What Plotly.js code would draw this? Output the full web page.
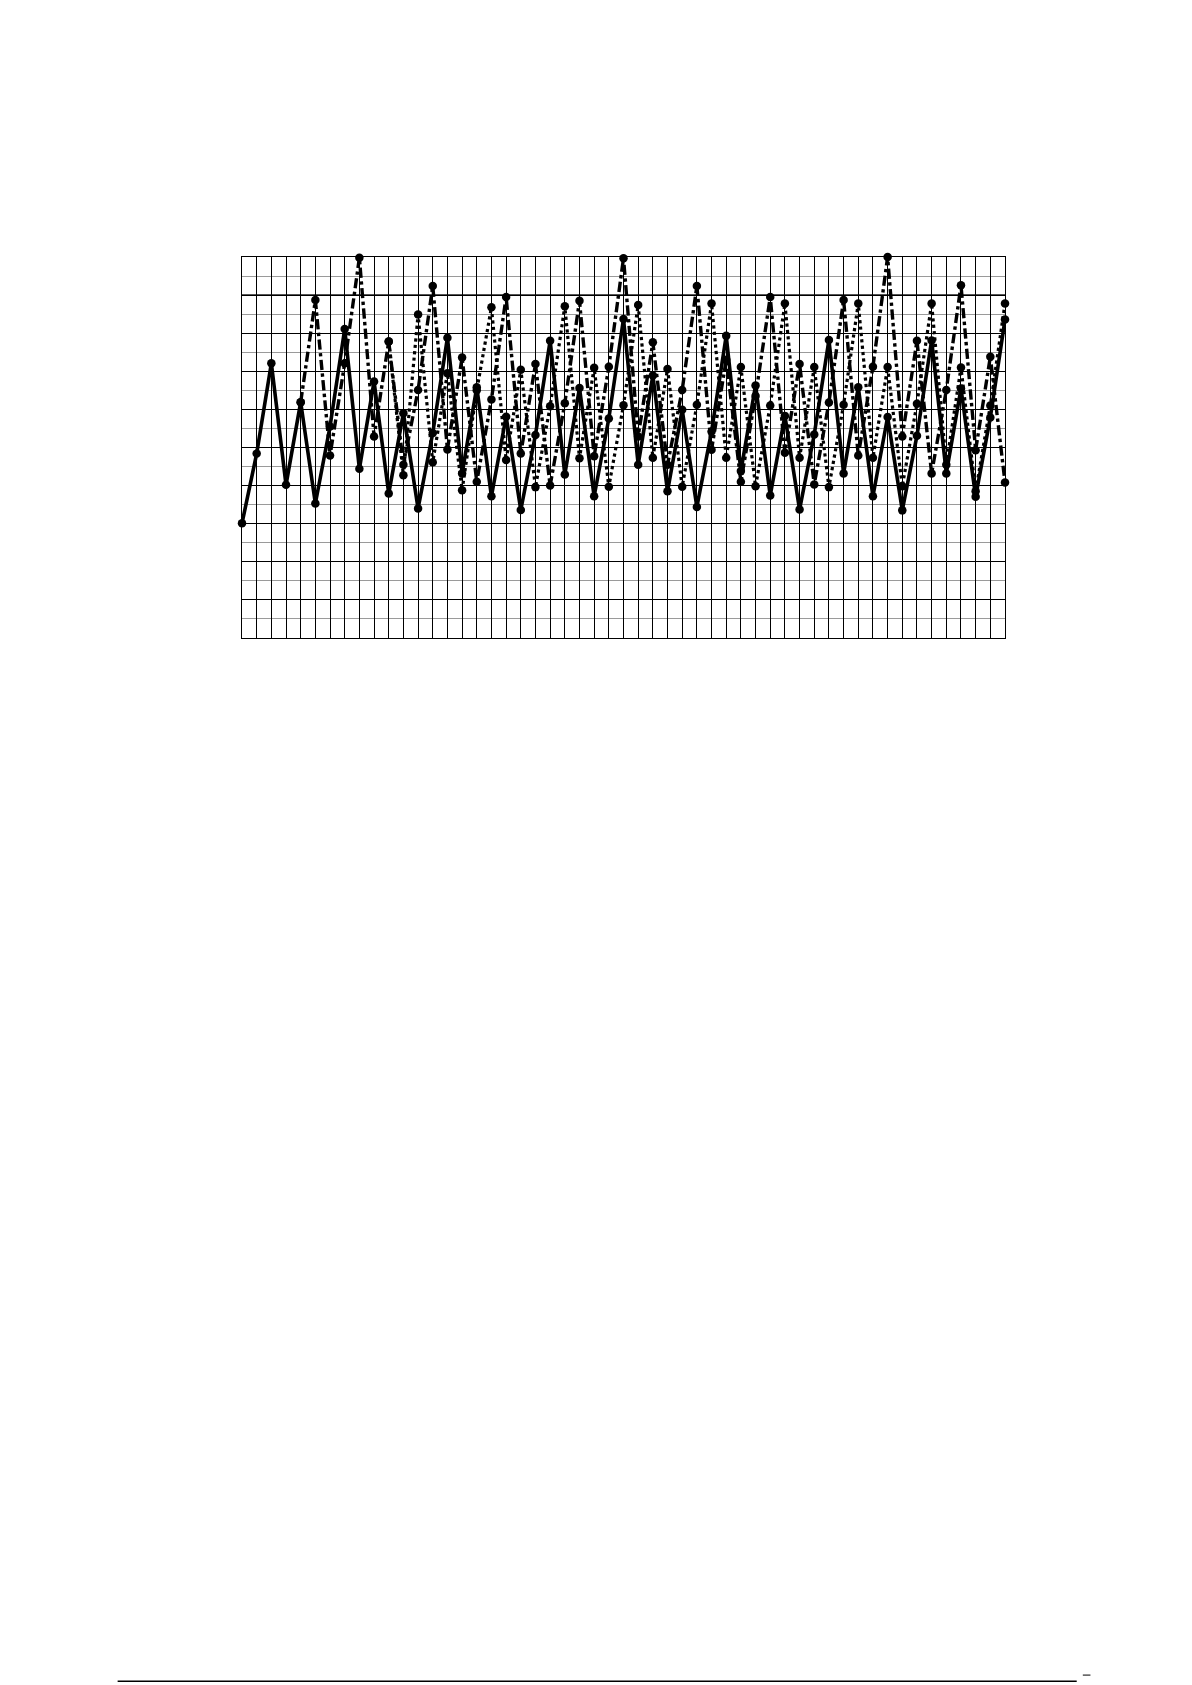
<!DOCTYPE html>
<html>
<head>
<meta charset="utf-8">
<script src="https://cdn.plot.ly/plotly-3.0.1.min.js"></script>
<style>
  html, body { margin: 0; padding: 0; background: #ffffff; }
  #chart { width: 1192px; height: 1685px; }
</style>
</head>
<body>
<div id="chart"></div>
<script>
// values, one per grid column (0..52)
const seriesSolid = [
  30.1, 48.4, 72.1, 40.2, 61.9, 35.3, 55.5, 81.1, 44.4, 67.3,
  37.9, 59.0, 34.0, 53.8, 78.8, 43.2, 65.8, 37.2, 58.1, 33.6,
  53.3, 78.0, 42.9, 65.6, 37.2, 57.6, 83.7, 45.5, 68.9, 38.5,
  59.9, 34.4, 54.2, 79.3, 43.8, 66.3, 37.4, 58.3, 33.7, 53.4,
  78.2, 43.2, 65.8, 37.2, 58.0, 33.5, 53.1, 78.1, 43.2, 65.5,
  37.1, 57.9, 83.6,
];

// dash-dot curve branches off the solid one at column 4
const seriesDashDot = [
  null, null, null, null,
  61.9, 88.7, 47.9, 72.1, 99.8, 52.9, 77.8, 45.5, 65.1, 92.4,
  49.5, 73.6, 41.0, 62.6, 89.5, 48.4, 71.9, 40.0, 61.6, 88.5,
  47.7, 71.2, 99.7, 52.9, 77.6, 45.5, 65.1, 92.4, 49.4, 73.0,
  41.0, 63.5, 89.5, 48.6, 71.9, 40.3, 61.8, 88.7, 47.9, 71.2,
  100.0, 52.9, 78.0, 43.2, 65.1, 92.6, 49.3, 73.8, 40.8,
];

// dotted curve branches off the dash-dot one at column 10
const seriesDotted = [
  null, null, null, null, null, null, null, null, null, null,
  77.8, 42.7, 84.9, 46.1, 69.5, 38.8, 65.0, 86.8, 46.7, 70.4,
  39.6, 60.8, 87.1, 47.2, 70.9, 39.7, 61.1, 87.4, 47.3, 70.6,
  39.7, 61.2, 87.8, 47.3, 71.1, 39.8, 61.0, 87.8, 47.3, 71.1,
  39.6, 61.2, 87.8, 47.3, 71.1, 39.8, 61.5, 87.8, 45.5, 71.0,
  38.5, 61.0, 87.8,
];

const columns = seriesSolid.map((_, i) => i);

function curve(values, dash, width) {
  return {
    x: columns,
    y: values,
    type: 'scatter',
    mode: 'lines+markers',
    line: { color: '#000000', width: width, dash: dash },
    marker: { color: '#000000', size: 8.5 },
    cliponaxis: false,
    hoverinfo: 'skip',
    showlegend: false,
  };
}

const data = [
  curve(seriesDotted, 'dot', 3.2),
  curve(seriesDashDot, 'dashdot', 3.4),
  curve(seriesSolid, 'solid', 3.6),
];

const layout = {
  width: 1192,
  height: 1685,
  autosize: false,
  paper_bgcolor: '#ffffff',
  plot_bgcolor: '#ffffff',
  margin: { l: 242, r: 187, t: 257, b: 1047, pad: 0 },
  xaxis: {
    range: [0, 52],
    dtick: 1,
    tick0: 0,
    showgrid: true,
    gridcolor: '#000000',
    gridwidth: 1,
    zeroline: false,
    showline: true,
    mirror: true,
    linecolor: '#000000',
    linewidth: 1.2,
    ticks: '',
    showticklabels: false,
  },
  yaxis: {
    range: [0, 100],
    dtick: 10,
    tick0: 0,
    showgrid: true,
    gridcolor: '#000000',
    gridwidth: 1,
    minor: { dtick: 5, showgrid: true, gridcolor: '#9a9a9a', gridwidth: 1 },
    zeroline: false,
    showline: true,
    mirror: true,
    linecolor: '#000000',
    linewidth: 1.2,
    ticks: '',
    showticklabels: false,
  },
  shapes: [
    // the darker rule at 90 in the scan
    {
      type: 'line', xref: 'paper', yref: 'y', x0: 0, x1: 1, y0: 90, y1: 90,
      line: { color: '#555555', width: 2 }, layer: 'below',
    },
    // page rule at the bottom edge
    {
      type: 'line', xref: 'paper', yref: 'paper', x0: -0.163, x1: 1.094, y0: -2.738, y1: -2.738,
      line: { color: '#000000', width: 1.5 },
    },
    // small mark right of the page rule
    {
      type: 'line', xref: 'paper', yref: 'paper', x0: 1.102, x1: 1.112, y0: -2.722, y1: -2.722,
      line: { color: '#000000', width: 1 },
    },
  ],
};

Plotly.newPlot('chart', data, layout, { staticPlot: true, displayModeBar: false });
</script>
</body>
</html>
